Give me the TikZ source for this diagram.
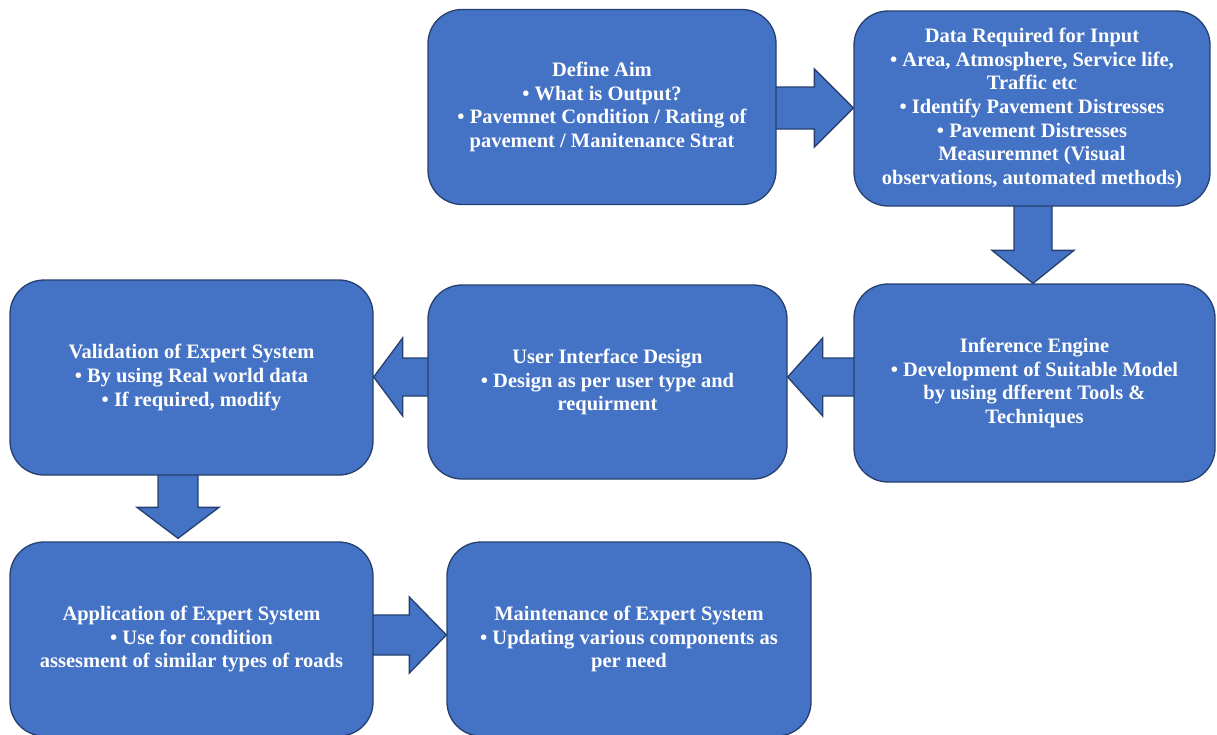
\documentclass[tikz,border=0pt]{standalone}
\usepackage{fontspec}
\setmainfont{Liberation Serif}
\usetikzlibrary{calc,backgrounds}
\definecolor{boxfill}{HTML}{4472C4}
\definecolor{boxline}{HTML}{25406E}
\tikzset{
  box/.style={draw=boxline, fill=boxfill, line width=1.3pt, rounded corners=34pt,
    inner sep=0pt, align=center, text=white,
    font=\fontsize{20.5}{23.7}\selectfont\bfseries},
  barrow/.style={draw=boxline, fill=boxfill, line width=1.3pt, line join=miter}
}
\begin{document}
\begin{tikzpicture}[x=1pt,y=-1pt]
\useasboundingbox (0,0) rectangle (1217,734);
\node[box, minimum width=348pt, minimum height=195pt] (aim) at (602,107)
  {Define Aim\\ • What is Output?\\ • Pavemnet Condition / Rating of\\ pavement / Manitenance Strat};
\node[box, minimum width=356pt, minimum height=195pt] (data) at (1032,108.5)
  {Data Required for Input\\ • Area, Atmosphere, Service life,\\ Traffic etc\\ • Identify Pavement Distresses\\ • Pavement Distresses\\ Measuremnet (Visual\\ observations, automated methods)};
\node[box, minimum width=361pt, minimum height=198pt] (inf) at (1034.5,383)
  {Inference Engine\\ • Development of Suitable Model\\ by using dfferent Tools \&\\ Techniques};
\node[box, minimum width=359pt, minimum height=194pt] (ui) at (607.5,382)
  {User Interface Design\\ • Design as per user type and\\ requirment};
\node[box, minimum width=363pt, minimum height=195pt] (val) at (191.5,377.5)
  {Validation of Expert System\\ • By using Real world data\\ • If required, modify};
\node[box, minimum width=363pt, minimum height=194pt] (app) at (191.5,639)
  {Application of Expert System\\ • Use for condition\\ assesment of similar types of roads};
\node[box, minimum width=364pt, minimum height=194pt] (mnt) at (629,639)
  {Maintenance of Expert System\\ • Updating various components as\\ per need};
\coordinate (y108) at (0,108);
\coordinate (y377) at (0,377);
\coordinate (y635) at (0,635);
\coordinate (x1033) at (1033,0);
\coordinate (x178) at (178,0);
\begin{pgfonlayer}{background}
% aim -> data (right)
\path (aim.east |- y108) coordinate (a1t) (data.west |- y108) coordinate (a1p);
\draw[barrow] ($(a1t)+(-4,-21)$) -- ($(a1p)+(-39,-21)$) -- ($(a1p)+(-39,-39)$) -- (a1p)
  -- ($(a1p)+(-39,39)$) -- ($(a1p)+(-39,21)$) -- ($(a1t)+(-4,21)$) -- cycle;
% data -> inf (down)
\path (data.south -| x1033) coordinate (a2t) (inf.north -| x1033) coordinate (a2p);
\draw[barrow] ($(a2t)+(-19,-4)$) -- ($(a2p)+(-19,-33)$) -- ($(a2p)+(-41,-33)$) -- (a2p)
  -- ($(a2p)+(41,-33)$) -- ($(a2p)+(19,-33)$) -- ($(a2t)+(19,-4)$) -- cycle;
% inf -> ui (left)
\path (inf.west |- y377) coordinate (a3t) (ui.east |- y377) coordinate (a3p);
\draw[barrow] ($(a3t)+(4,-19)$) -- ($(a3p)+(35,-19)$) -- ($(a3p)+(35,-39)$) -- (a3p)
  -- ($(a3p)+(35,39)$) -- ($(a3p)+(35,19)$) -- ($(a3t)+(4,19)$) -- cycle;
% ui -> val (left)
\path (ui.west |- y377) coordinate (a4t) (val.east |- y377) coordinate (a4p);
\draw[barrow] ($(a4t)+(4,-19)$) -- ($(a4p)+(29,-19)$) -- ($(a4p)+(29,-39)$) -- (a4p)
  -- ($(a4p)+(29,39)$) -- ($(a4p)+(29,19)$) -- ($(a4t)+(4,19)$) -- cycle;
% val -> app (down)
\path (val.south -| x178) coordinate (a5t) (app.north -| x178) coordinate (a5p);
\draw[barrow] ($(a5t)+(-20,-4)$) -- ($(a5p)+(-20,-34)$) -- ($(a5p)+(-41,-34)$) -- ($(a5p)+(0,-3)$)
  -- ($(a5p)+(41,-34)$) -- ($(a5p)+(20,-34)$) -- ($(a5t)+(20,-4)$) -- cycle;
% app -> mnt (right)
\path (app.east |- y635) coordinate (a6t) (mnt.west |- y635) coordinate (a6p);
\draw[barrow] ($(a6t)+(-4,-20)$) -- ($(a6p)+(-37,-20)$) -- ($(a6p)+(-37,-38)$) -- (a6p)
  -- ($(a6p)+(-37,38)$) -- ($(a6p)+(-37,20)$) -- ($(a6t)+(-4,20)$) -- cycle;
\end{pgfonlayer}
\end{tikzpicture}
\end{document}
